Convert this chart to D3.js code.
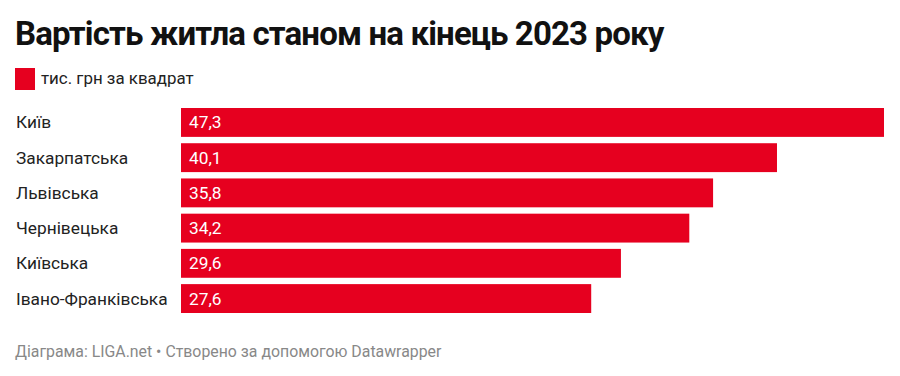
<!DOCTYPE html>
<html>
<head>
<meta charset="utf-8">
<script src="https://cdn.jsdelivr.net/npm/d3@7"></script>
<style>
  body { margin: 0; background: #fff; }
  svg { display: block; font-family: Roboto, sans-serif; }
</style>
</head>
<body>
<svg id="drawing_region"></svg>
<script>
const regions = ["Київ", "Закарпатська", "Львівська", "Чернівецька", "Київська", "Івано-Франківська"];
const values = [47.3, 40.1, 35.8, 34.2, 29.6, 27.6];
const title = "Вартість житла станом на кінець 2023 року";
const legendLabel = "тис. грн за квадрат";
const footer = "Діаграма: LIGA.net • Створено за допомогою Datawrapper";

const config = {
    width: 900,
    height: 376,
    margin: { top: 108, right: 16, bottom: 63, left: 181 }
};
const red = "#e6001f";

const svg = d3.select("#drawing_region")
    .attr("width", config.width)
    .attr("height", config.height);

svg.append("text")
    .attr("x", 15)
    .attr("y", 45)
    .attr("font-size", 33)
    .attr("font-weight", 700)
    .attr("letter-spacing", -0.85)
    .attr("fill", "#111")
    .text(title);

svg.append("rect")
    .attr("x", 15).attr("y", 68)
    .attr("width", 20).attr("height", 22)
    .attr("fill", red);

svg.append("text")
    .attr("x", 41)
    .attr("y", 84)
    .attr("font-size", 16.9)
    .attr("fill", "#222")
    .text(legendLabel);

const inner_width = 884 - config.margin.left;
const inner_height = 313 - config.margin.top;

const chart = svg.append("g")
    .attr("transform", `translate(${config.margin.left}, ${config.margin.top})`);

const xscale = d3.scaleLinear()
    .domain([0, d3.max(values)])
    .range([0, inner_width]);

const yscale = d3.scaleBand()
    .domain(regions)
    .range([0, inner_height])
    .paddingInner(0.18)
    .paddingOuter(0.0);

const data = regions.map((r, i) => ({ region: r, value: values[i] }));

chart.selectAll("rect.bar")
    .data(data)
    .join("rect")
    .attr("class", "bar")
    .attr("x", 0)
    .attr("y", d => yscale(d.region))
    .attr("width", d => xscale(d.value))
    .attr("height", yscale.bandwidth())
    .attr("fill", red);

chart.selectAll("text.value")
    .data(data)
    .join("text")
    .attr("class", "value")
    .attr("x", 8)
    .attr("y", d => yscale(d.region) + yscale.bandwidth() / 2)
    .attr("dy", "0.35em")
    .attr("font-size", 17.3)
    .attr("fill", "#fff")
    .text(d => d3.format(".1f")(d.value).replace(".", ","));

chart.selectAll("text.label")
    .data(data)
    .join("text")
    .attr("class", "label")
    .attr("x", 16 - config.margin.left)
    .attr("y", d => yscale(d.region) + yscale.bandwidth() / 2)
    .attr("dy", "0.35em")
    .attr("font-size", 17.3)
    .attr("fill", "#222")
    .text(d => d.region);

svg.append("text")
    .attr("x", 15)
    .attr("y", 357)
    .attr("font-size", 15.85)
    .attr("fill", "#888")
    .text(footer);
</script>
</body>
</html>
